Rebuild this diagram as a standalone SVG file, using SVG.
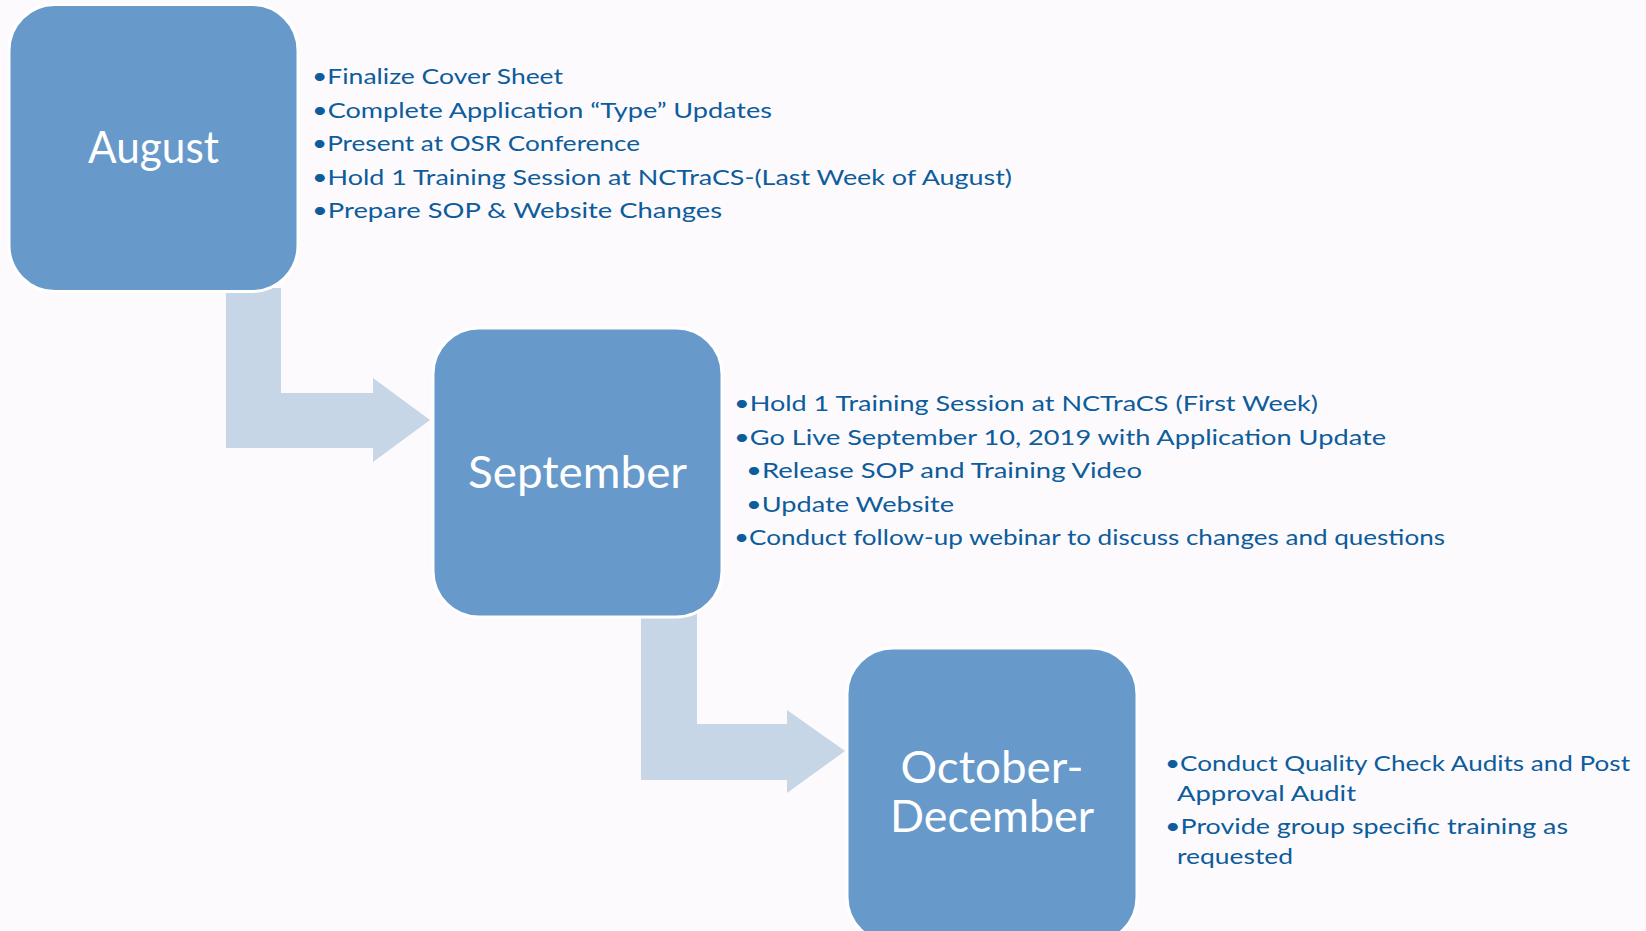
<svg xmlns="http://www.w3.org/2000/svg" width="1646" height="931" viewBox="0 0 1646 931">
  <style>
    .box { fill: #6799CB; stroke: #FFFFFF; stroke-width: 3; }
    .label { font-family: Lato, "Liberation Sans", sans-serif; font-size: 44px; fill: #FFFFFF; text-anchor: middle; }
    .item { font-family: Lato, "Liberation Sans", sans-serif; font-size: 22px; fill: #0D5C9B; }
    .arrow { fill: #C6D6E7; }
  </style>
  <rect x="0" y="0" width="1646" height="931" fill="#FCFAFD"/>

  <!-- bent arrows leading from one period to the next -->
  <g id="connectors">
    <path class="arrow" d="M226 288 L281 288 L281 393 L373 393 L373 378 L430 420 L373 462 L373 448 L226 448 Z"/>
    <path class="arrow" d="M641 613 L697 613 L697 724 L787 724 L787 710 L845 751 L787 793 L787 780 L641 780 Z"/>
  </g>

  <g id="node-august">
    <rect class="box" x="9" y="4.5" width="289" height="287" rx="46" ry="46"/>
    <text class="label" x="153.5" y="163" textLength="131" lengthAdjust="spacingAndGlyphs">August</text>
    <text class="item" x="312" y="84" textLength="251" lengthAdjust="spacingAndGlyphs">•Finalize Cover Sheet</text>
    <text class="item" x="312" y="117.5" textLength="460" lengthAdjust="spacingAndGlyphs">•Complete Application “Type” Updates</text>
    <text class="item" x="312" y="151" textLength="328" lengthAdjust="spacingAndGlyphs">•Present at OSR Conference</text>
    <text class="item" x="312" y="184.5" textLength="700" lengthAdjust="spacingAndGlyphs">•Hold 1 Training Session at NCTraCS-(Last Week of August)</text>
    <text class="item" x="312" y="218" textLength="410" lengthAdjust="spacingAndGlyphs">•Prepare SOP &amp; Website Changes</text>
  </g>

  <g id="node-september">
    <rect class="box" x="433" y="328" width="289" height="289" rx="46" ry="46"/>
    <text class="label" x="577.5" y="488" textLength="219" lengthAdjust="spacingAndGlyphs">September</text>
    <text class="item" x="734" y="411" textLength="584" lengthAdjust="spacingAndGlyphs">•Hold 1 Training Session at NCTraCS (First Week)</text>
    <text class="item" x="734" y="444.5" textLength="652" lengthAdjust="spacingAndGlyphs">•Go Live September 10, 2019 with Application Update</text>
    <text class="item" x="746" y="478" textLength="396" lengthAdjust="spacingAndGlyphs">•Release SOP and Training Video</text>
    <text class="item" x="746" y="511.5" textLength="208" lengthAdjust="spacingAndGlyphs">•Update Website</text>
    <text class="item" x="734" y="545" textLength="711" lengthAdjust="spacingAndGlyphs">•Conduct follow-up webinar to discuss changes and questions</text>
  </g>

  <g id="node-october-december">
    <rect class="box" x="847" y="648" width="290" height="295" rx="46" ry="46"/>
    <text class="label" x="992" y="783" textLength="183" lengthAdjust="spacingAndGlyphs">October-</text>
    <text class="label" x="992" y="832" textLength="204" lengthAdjust="spacingAndGlyphs">December</text>
    <text class="item" x="1165" y="771" textLength="465" lengthAdjust="spacingAndGlyphs">•Conduct Quality Check Audits and Post</text>
    <text class="item" x="1177" y="800.5" textLength="179" lengthAdjust="spacingAndGlyphs">Approval Audit</text>
    <text class="item" x="1165" y="834" textLength="403" lengthAdjust="spacingAndGlyphs">•Provide group specific training as</text>
    <text class="item" x="1177" y="863.5" textLength="116" lengthAdjust="spacingAndGlyphs">requested</text>
  </g>
</svg>
